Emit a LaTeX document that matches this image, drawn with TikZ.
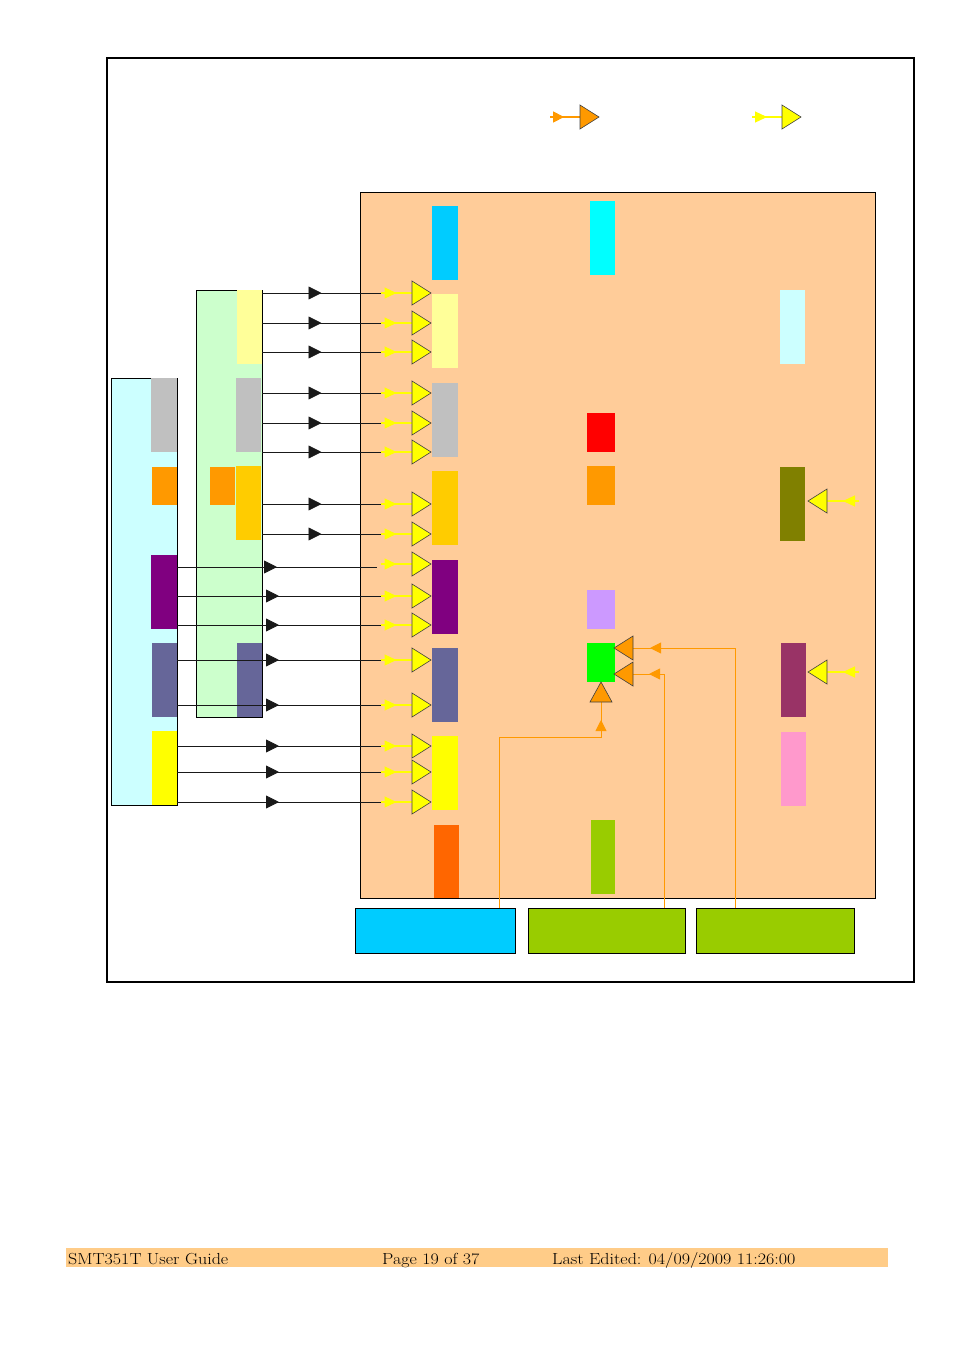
\documentclass[tikz,border=0pt]{standalone}
\usepackage{fontspec}
\usetikzlibrary{arrows.meta,decorations.markings}
\definecolor{Peach}{HTML}{FFCC99}
\definecolor{FootBg}{HTML}{FFCC88}
\definecolor{LCyan}{HTML}{CCFFFF}
\definecolor{LGreen}{HTML}{CCFFCC}
\definecolor{Grey}{HTML}{C0C0C0}
\definecolor{Org}{HTML}{FF9900}
\definecolor{Purp}{HTML}{800080}
\definecolor{Slate}{HTML}{666699}
\definecolor{Yel}{HTML}{FFFF00}
\definecolor{LYel}{HTML}{FFFF99}
\definecolor{Gold}{HTML}{FFCC00}
\definecolor{Sky}{HTML}{00CCFF}
\definecolor{Aqua}{HTML}{00FFFF}
\definecolor{Rd}{HTML}{FF0000}
\definecolor{ORed}{HTML}{FF6600}
\definecolor{Lav}{HTML}{CC99FF}
\definecolor{Lime}{HTML}{00FF00}
\definecolor{YGreen}{HTML}{99CC00}
\definecolor{Olv}{HTML}{808000}
\definecolor{Plum}{HTML}{993366}
\definecolor{Pnk}{HTML}{FF99CC}
\tikzset{
  blk/.style={draw=none,inner sep=0pt,outer sep=0pt},
  box/.style={draw=black,line width=1pt,inner sep=0pt,outer sep=0pt},
  bconn/.style={color=black!90,line width=0.8pt,postaction={decorate},
    decoration={markings,mark=at position 0.5 with {\arrow{Triangle[length=13pt,width=13pt]}}}},
  yconn/.style={color=Yel,line width=1.2pt,postaction={decorate},
    decoration={markings,mark=at position 0.5 with {\arrow{Triangle[length=12pt,width=11pt]}}}},
  oconn/.style={color=Org,line width=0.9pt,postaction={decorate},
    decoration={markings,mark=at position #1 with {\arrow{Triangle[length=11pt,width=11pt]}}}},
  tri/.style={draw=black!75,line width=0.6pt,line join=miter},
  foot/.style={anchor=base west,inner sep=0pt,font=\fontsize{16}{18}\selectfont}
}
\newcommand\Rect[7]{\node[#1,fill=#7,minimum width={(#5-#3)*1pt},minimum height={(#6-#4)*1pt}] (#2) at ({(#3+#5)/2},{(#4+#6)/2}) {};}
\newcommand\TriR[2]{\filldraw[tri,fill=#1] (#2) ++(0,-12) -- ++(19,12) -- ++(-19,12) -- cycle;}
\newcommand\TriL[2]{\filldraw[tri,fill=#1] (#2) ++(0,-12) -- ++(-19,12) -- ++(19,12) -- cycle;}
\newcommand\FootText[1]{\scalebox{1.125}[1]{#1}}
\begin{document}
\begin{tikzpicture}[x=1pt,y=-1pt]
\useasboundingbox (0,0) rectangle (954,1350);
% outer frame
\node[draw=black,line width=1.5pt,inner sep=0pt,minimum width=807pt,minimum height=924pt] (frame) at (510.5,520) {};
% main peach box
\Rect{box}{main}{360}{192}{875}{898}{Peach}
% left boxes
\Rect{box}{cbox}{111}{378}{177}{805}{LCyan}
\Rect{box}{gbox}{196}{290}{262}{717}{LGreen}
% cyan box blocks
\Rect{blk}{c1}{151}{378}{177}{452}{Grey}
\Rect{blk}{c2}{152}{467}{177}{505}{Org}
\Rect{blk}{c3}{151}{555}{177}{629}{Purp}
\Rect{blk}{c4}{152}{643}{177}{717}{Slate}
\Rect{blk}{c5}{152}{731}{177}{805}{Yel}
% green box blocks
\Rect{blk}{g1}{237}{290}{262}{364}{LYel}
\Rect{blk}{g2}{236}{378}{261}{452}{Grey}
\Rect{blk}{g3}{210}{467}{235}{505}{Org}
\Rect{blk}{g4}{236}{466}{261}{540}{Gold}
\Rect{blk}{g5}{237}{643}{262}{717}{Slate}
% main box blocks, column 1
\Rect{blk}{m1}{432}{206}{458}{280}{Sky}
\Rect{blk}{m2}{432}{294}{458}{368}{LYel}
\Rect{blk}{m3}{432}{383}{458}{457}{Grey}
\Rect{blk}{m4}{432}{471}{458}{545}{Gold}
\Rect{blk}{m5}{432}{560}{458}{634}{Purp}
\Rect{blk}{m6}{432}{648}{458}{722}{Slate}
\Rect{blk}{m7}{432}{736}{458}{810}{Yel}
\Rect{blk}{m8}{434}{825}{459}{898}{ORed}
% column 2
\Rect{blk}{n1}{590}{201}{615}{275}{Aqua}
\Rect{blk}{n2}{587}{413}{615}{452}{Rd}
\Rect{blk}{n3}{587}{466}{615}{505}{Org}
\Rect{blk}{n4}{587}{590}{615}{629}{Lav}
\Rect{blk}{n5}{587}{643}{615}{682}{Lime}
\Rect{blk}{n6}{591}{820}{615}{894}{YGreen}
% column 3
\Rect{blk}{p1}{780}{290}{805}{364}{LCyan}
\Rect{blk}{p2}{780}{467}{805}{541}{Olv}
\Rect{blk}{p3}{781}{643}{806}{717}{Plum}
\Rect{blk}{p4}{781}{732}{806}{806}{Pnk}
% bottom boxes
\Rect{box}{bx1}{355}{908}{515}{953}{Sky}
\Rect{box}{bx2}{528}{908}{685}{953}{YGreen}
\Rect{box}{bx3}{696}{908}{854}{953}{YGreen}
% rows from green box
\foreach \yy [count=\i] in {293,323,352,393,423,452,504,534} {
  \coordinate (ga\i) at (381,\yy);
  \coordinate (gb\i) at (412,\yy);
  \draw[bconn] (gbox.east |- ga\i) -- (ga\i);
  \draw[yconn] (ga\i) -- (gb\i);
  \TriR{Yel}{gb\i}
}
% special row from purple block
\coordinate (ka) at (377,567);
\coordinate (kb) at (381,564);
\coordinate (kc) at (412,564);
\draw[bconn] (cbox.east |- ka) -- (ka);
\draw[yconn] (kb) -- (kc);
\TriR{Yel}{kc}
% rows from cyan box
\foreach \yy [count=\i] in {596,625,660,705,746,772,802} {
  \coordinate (ca\i) at (381,\yy);
  \coordinate (cb\i) at (412,\yy);
  \draw[bconn] (cbox.east |- ca\i) -- (ca\i);
  \draw[yconn] (ca\i) -- (cb\i);
  \TriR{Yel}{cb\i}
}
% right side inputs
\coordinate (ra1) at (859,501); \coordinate (rb1) at (827,501);
\coordinate (ra2) at (859,672); \coordinate (rb2) at (827,672);
\draw[yconn] (ra1) -- (rb1); \TriL{Yel}{rb1}
\draw[yconn] (ra2) -- (rb2); \TriL{Yel}{rb2}
% orange connections to green block
\coordinate (o3) at (735,648); \coordinate (t3) at (633,648);
\coordinate (o2) at (664,674); \coordinate (t2) at (633,674);
\coordinate (o1) at (499,737); \coordinate (t1) at (601,702);
\draw[oconn=-17pt] (bx3.north -| o3) |- (t3);
\draw[oconn=-16pt] (bx2.north -| o2) |- (t2);
\draw[oconn=-18pt] (bx1.north -| o1) -- (o1) -| (t1);
\TriL{Org}{t3}
\TriL{Org}{t2}
\filldraw[tri,fill=Org] (t1) ++(-11,0) -- ++(11,-20) -- ++(11,20) -- cycle;
% legend
\coordinate (la1) at (550,117); \coordinate (lb1) at (580,117);
\coordinate (la2) at (752,117); \coordinate (lb2) at (782,117);
\draw[oconn=0.47,line width=1.2pt] (la1) -- (lb1); \TriR{Org}{lb1}
\draw[yconn] (la2) -- (lb2); \TriR{Yel}{lb2}
% footer
\Rect{blk}{footer}{66}{1248}{888}{1267}{FootBg}
\node[foot] (f1) at (68,1264) {\FootText{SMT351T User Guide}};
\node[foot] (f2) at (382,1264) {\FootText{Page 19 of 37}};
\node[foot] (f3) at (552,1264) {\FootText{Last Edited: 04/09/2009 11:26:00}};
\end{tikzpicture}
\end{document}
